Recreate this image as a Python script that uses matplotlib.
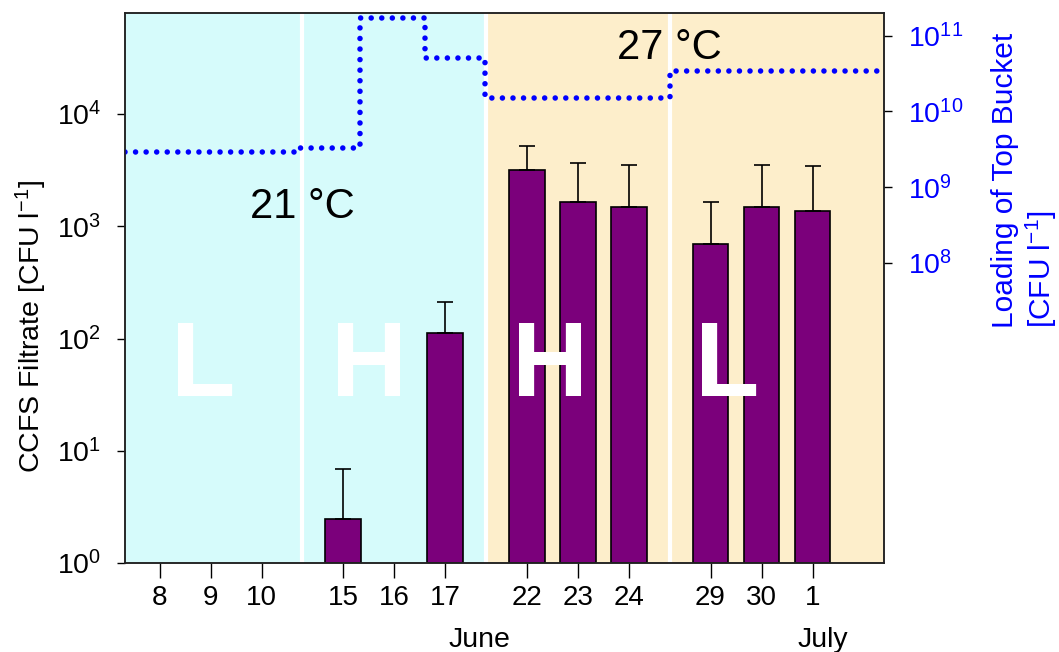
"""
CCFS filtrate vs. top bucket loading, 21 °C / 27 °C runs
"""
import numpy as np
import matplotlib
matplotlib.use('Agg')
import matplotlib.pyplot as plt
import matplotlib.ticker as mticker

plt.rcParams['font.family'] = ['Liberation Sans', 'DejaVu Sans']
plt.rcParams['mathtext.fontset'] = 'custom'
plt.rcParams['mathtext.rm'] = 'Liberation Sans'
plt.rcParams['mathtext.it'] = 'Liberation Sans:italic'
plt.rcParams['mathtext.default'] = 'regular'

# sampling days (June 8 ... July 1), grouped by runs of 3
days = ['8', '9', '10', '15', '16', '17', '22', '23', '24', '29', '30', '1']
filtrate = [np.nan, np.nan, np.nan, 2.47, np.nan, 113, 3170, 1640, 1470, 695, 1480, 1370]
filtrate_top = [np.nan, np.nan, np.nan, 6.87, np.nan, 211, 5200, 3640, 3490, 1660, 3490, 3440]

# loading of top bucket (step line), edges in day-position units
load_edges = [-0.68, 2.76, 3.93, 5.21, 6.38, 10.01, 14.09]
load_vals = [2.92e9, 3.3e9, 1.73e11, 5.06e10, 1.49e10, 3.43e10]

phase_labels = ['L', 'H', 'H', 'L']
temp_labels = ['21 °C', '27 °C']
months = ['June', 'July']

CYAN = '#D6FBFB'
TAN = '#FDEECB'
PURPLE = '#7B007B'
BLUE = '#0000FF'

GROUP_STRIDE = 3.6
pos = np.array([g * GROUP_STRIDE + i for g in range(4) for i in range(3)])
seps = [(pos[3 * g + 2] + pos[3 * g + 3]) / 2 for g in range(3)]
XMIN, XMAX = -0.68, 14.2

fig = plt.figure(figsize=(10.59, 6.52), dpi=100)
fig.patch.set_facecolor('white')
ax = fig.add_axes([0.118, 0.1365, 0.7167, 0.8436])

# background: 21 °C cyan, 27 °C tan, white separators
ax.axvspan(XMIN, seps[1], color=CYAN, lw=0, zorder=0)
ax.axvspan(seps[1], XMAX, color=TAN, lw=0, zorder=0)
for s in seps:
    ax.axvline(s, color='white', lw=3, zorder=0.5)

vals = np.array(filtrate, dtype=float)
tops = np.array(filtrate_top, dtype=float)
ok = np.isfinite(vals)
ax.bar(pos[ok], vals[ok] - 1, width=0.7, bottom=1, color=PURPLE,
       edgecolor='black', lw=1.2, zorder=2)
ax.errorbar(pos[ok], vals[ok], yerr=[np.zeros(ok.sum()), tops[ok] - vals[ok]],
            fmt='none', ecolor='black', elinewidth=1.2, capsize=5.8,
            capthick=1.2, zorder=2.5)

ax.set_yscale('log')
ax.set_ylim(1, 10 ** 4.9)
ax.set_xlim(XMIN, XMAX)
ax.yaxis.set_major_locator(mticker.FixedLocator([1, 10, 100, 1e3, 1e4]))
ax.yaxis.set_minor_locator(mticker.NullLocator())
ax.set_xticks(pos)
ax.set_xticklabels(days)
ax.tick_params(axis='x', length=10.5, width=1, pad=5, labelsize=20)
ax.tick_params(axis='y', length=6, width=1, pad=11, labelsize=20.5)
for sp in ax.spines.values():
    sp.set_linewidth(1.1)
    sp.set_color('#222222')

ax.set_ylabel('CCFS Filtrate [CFU l$^{-1}$]', fontsize=20.5)
ax.yaxis.set_label_coords(-0.1, 0.43)

# phase letters (white, on top of bars)
letter_x = [0.85, 4.1, 7.66, 11.12]
for lx, lab in zip(letter_x, phase_labels):
    ax.text(lx, 31, lab, color='white', fontsize=76, fontweight='bold',
            ha='center', va='baseline', zorder=3)

# temperature labels
ax.text(seps[0], 1184, temp_labels[0], fontsize=30, ha='center', va='baseline', zorder=3)
ax.text(seps[2], 31100, temp_labels[1], fontsize=30, ha='center', va='baseline', zorder=3)

# month labels under the day ticks
xt = ax.get_xaxis_transform()
ax.text(6.27, -0.153, months[0], transform=xt, fontsize=20.5, ha='center', va='baseline')
ax.text(13.0, -0.153, months[1], transform=xt, fontsize=20.5, ha='center', va='baseline')

# right axis: loading of top bucket
ax2 = ax.twinx()
ax2.plot(load_edges, load_vals + [load_vals[-1]], drawstyle='steps-post',
         color=BLUE, lw=4, ls=(0, (0.001, 1.9)), dash_capstyle='round')
ax2.set_yscale('log')
ax2.set_ylim(10 ** 4.04, 10 ** 11.3)
ax2.yaxis.set_major_locator(mticker.FixedLocator([1e8, 1e9, 1e10, 1e11]))
ax2.yaxis.set_minor_locator(mticker.NullLocator())
ax2.tick_params(axis='y', length=6, width=1, pad=11, labelsize=20.5, labelcolor=BLUE)
for sp in ax2.spines.values():
    sp.set_linewidth(1.1)
    sp.set_color('#222222')
ax2.text(1.186, 0.427, 'Loading of Top Bucket\n[CFU l$^{-1}$]', transform=ax2.transAxes,
         rotation=90, ha='center', va='bottom', multialignment='left',
         fontsize=21.5, color=BLUE, linespacing=1.2)

plt.savefig('out.png', dpi=100, facecolor='white')
plt.close()
